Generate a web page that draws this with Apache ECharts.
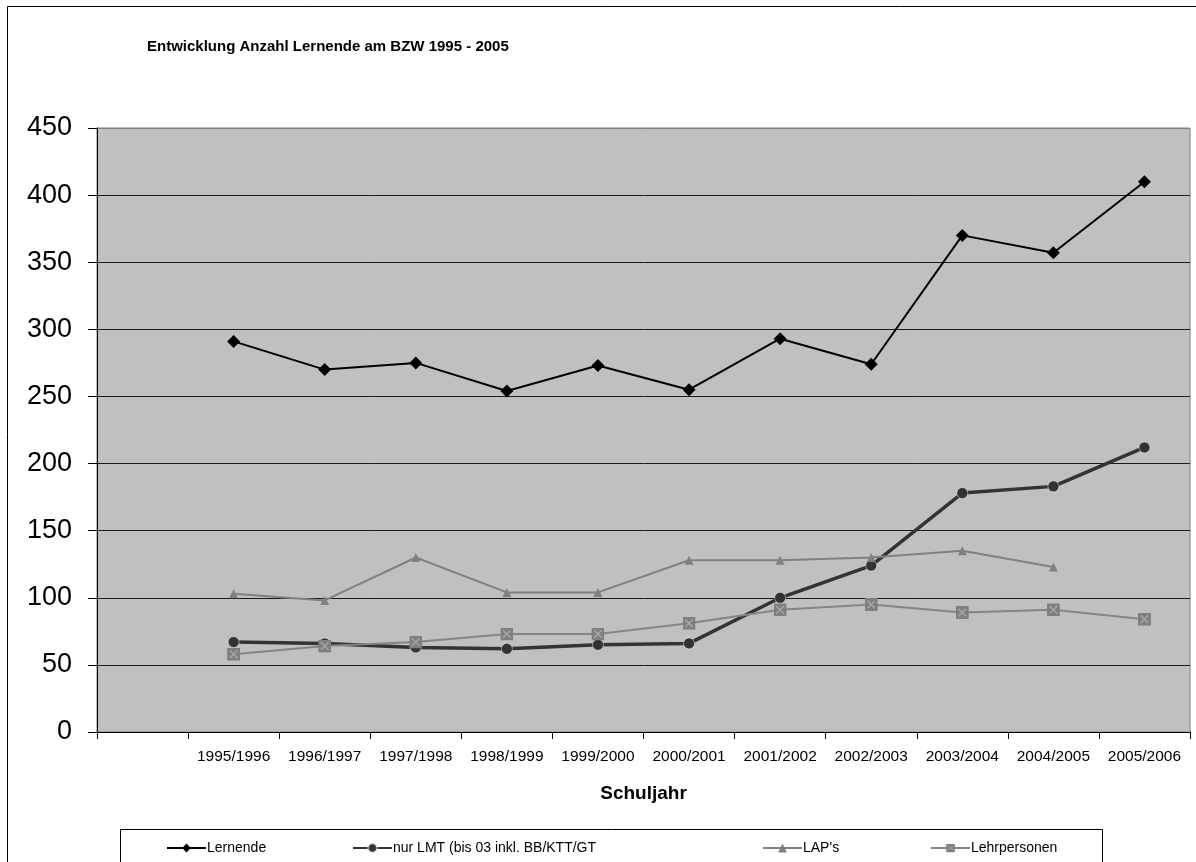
<!DOCTYPE html>
<html>
<head>
<meta charset="utf-8">
<title>Entwicklung Anzahl Lernende am BZW 1995 - 2005</title>
<script src="https://cdn.jsdelivr.net/npm/echarts@6/dist/echarts.min.js"></script>
<style>
  html, body { margin: 0; padding: 0; background: #ffffff; }
  #chart { width: 1196px; height: 862px; }
</style>
</head>
<body>
<div id="chart"></div>
<script>
// School years (the first slot on the axis stays empty)
const schoolYears = ['', '1995/1996', '1996/1997', '1997/1998', '1998/1999', '1999/2000',
  '2000/2001', '2001/2002', '2002/2003', '2003/2004', '2004/2005', '2005/2006'];

// Head counts per school year
const lernende     = [null, 291, 270, 275, 254, 273, 255, 293, 274, 370, 357, 410];
const nurLMT       = [null, 67, 66, 63, 62, 65, 66, 100, 124, 178, 183, 212];
const laps         = [null, 103, 98, 130, 104, 104, 128, 128, 130, 135, 123, null];
const lehrpersonen = [null, 58, 64, 67, 73, 73, 81, 91, 95, 89, 91, 84];

const seriesNames = ['Lernende', 'nur LMT (bis 03 inkl. BB/KTT/GT', "LAP's", 'Lehrpersonen'];

// Value axis ticks
const yMin = 0, yMax = 450, yStep = 50;

const FONT = '"Liberation Sans", Arial, sans-serif';

// Grey square marker with a light cross
const crossSquare = 'image://data:image/svg+xml;utf8,' + encodeURIComponent(
  '<svg xmlns="http://www.w3.org/2000/svg" width="24" height="24" viewBox="0 0 24 24">' +
  '<rect x="0" y="0" width="24" height="24" fill="#7f7f7f"/>' +
  '<path d="M5 5L19 19M19 5L5 19" stroke="#a9a9a9" stroke-width="2.4"/></svg>');

const chart = echarts.init(document.getElementById('chart'), null, { renderer: 'canvas' });

const gridColors = [];
for (let v = yMin; v <= yMax; v += yStep) gridColors.push(v === yMax ? '#808080' : '#1a1a1a');

function legendAt(name, left) {
  return {
    data: [name], left: left, top: 841, orient: 'horizontal',
    itemWidth: 39, itemHeight: 11, itemGap: 2, padding: 0,
    selectedMode: false,
    textStyle: { fontFamily: FONT, fontSize: 14, color: '#000', padding: [0, 0, 0, -4] }
  };
}

chart.setOption({
  animation: false,
  backgroundColor: '#ffffff',
  title: {
    text: 'Entwicklung Anzahl Lernende am BZW 1995 - 2005',
    left: 147, top: 39, padding: 0,
    textStyle: { fontFamily: FONT, fontSize: 15, fontWeight: 'bold', color: '#000' }
  },
  graphic: [
    { type: 'rect', shape: { x: 7.5, y: 6.5, width: 1300, height: 1000 },
      style: { fill: 'none', stroke: '#000', lineWidth: 1 }, silent: true, z: -10 },
    { type: 'rect', shape: { x: 120.5, y: 829.5, width: 982, height: 60 },
      style: { fill: '#fff', stroke: '#000', lineWidth: 1 }, silent: true, z: -5 }
  ],
  legend: [
    legendAt(seriesNames[0], 166),
    legendAt(seriesNames[1], 352),
    legendAt(seriesNames[2], 762),
    legendAt(seriesNames[3], 930)
  ],
  grid: {
    left: 97, right: 6, top: 128, bottom: 130,
    show: true, backgroundColor: '#c0c0c0', borderColor: '#808080', borderWidth: 1
  },
  xAxis: {
    type: 'category', data: schoolYears, boundaryGap: true,
    name: 'Schuljahr', nameLocation: 'middle', nameGap: 52,
    nameTextStyle: { fontFamily: FONT, fontSize: 19, fontWeight: 'bold', color: '#000' },
    axisLine: { show: true, lineStyle: { color: '#000', width: 1 } },
    axisTick: { show: true, interval: 0, length: 7, lineStyle: { color: '#000' } },
    axisLabel: { interval: 0, margin: 17, fontFamily: FONT, fontSize: 15.5, color: '#000' },
    splitLine: { show: false }
  },
  yAxis: {
    type: 'value', min: yMin, max: yMax, interval: yStep,
    axisLine: { show: true, lineStyle: { color: '#000', width: 1 } },
    axisTick: { show: true, length: 9, lineStyle: { color: '#000' } },
    axisLabel: { margin: 25, fontFamily: FONT, fontSize: 27, color: '#000' },
    splitLine: { show: true, lineStyle: { color: gridColors, width: 1 } }
  },
  series: [
    {
      name: seriesNames[0], type: 'line', data: lernende,
      symbol: 'diamond', symbolSize: 13, connectNulls: false,
      lineStyle: { color: '#000', width: 2 },
      itemStyle: { color: '#000' }
    },
    {
      name: seriesNames[1], type: 'line', data: nurLMT,
      symbol: 'circle', symbolSize: 11,
      lineStyle: { color: '#333333', width: 3.5 },
      itemStyle: { color: '#333333', borderColor: 'rgba(255,255,255,0.45)', borderWidth: 1 }
    },
    {
      name: seriesNames[2], type: 'line', data: laps,
      symbol: 'triangle', symbolSize: 9,
      lineStyle: { color: '#808080', width: 2 },
      itemStyle: { color: '#808080' }
    },
    {
      name: seriesNames[3], type: 'line', data: lehrpersonen,
      symbol: crossSquare, symbolSize: 13,
      lineStyle: { color: '#858585', width: 2 },
      itemStyle: { color: '#858585' }
    }
  ]
});
</script>
</body>
</html>
